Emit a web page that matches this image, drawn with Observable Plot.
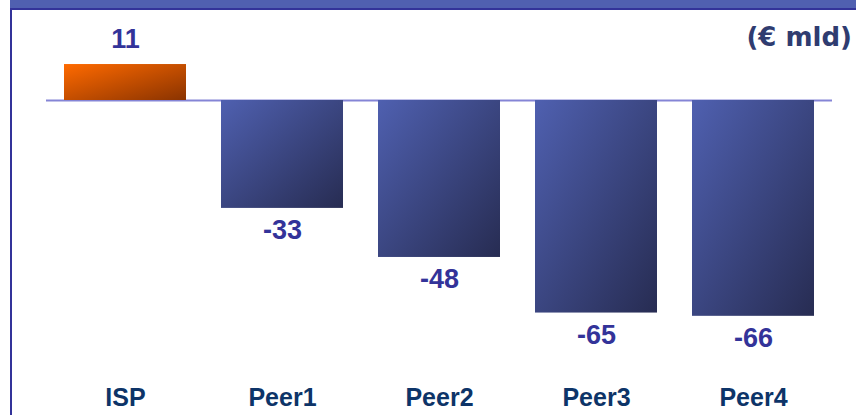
<!DOCTYPE html>
<html>
<head>
<meta charset="utf-8">
<script src="https://cdn.jsdelivr.net/npm/d3@7"></script>
<script src="https://cdn.jsdelivr.net/npm/@observablehq/plot@0.6"></script>
<style>
  html, body { margin: 0; padding: 0; background: #fff; }
  #wrap { position: relative; width: 856px; height: 415px; overflow: hidden; background: #fff; }
  #chart { position: absolute; left: 0; top: 0; }
  .band { position: absolute; left: 10px; top: 0; width: 846px; height: 8px; background: #5060b0; }
  .topline { position: absolute; left: 10px; top: 8px; width: 846px; height: 2px; background: #333399; }
  .leftline { position: absolute; left: 10px; top: 8px; width: 2px; height: 407px; background: #333399; }
  .unit { position: absolute; right: 4px; top: 22px; font-family: "DejaVu Sans", sans-serif; font-weight: bold; font-size: 26px; color: #2f3c70; }
</style>
</head>
<body>
<div id="wrap">
  <div id="chart"></div>
  <div class="band"></div>
  <div class="topline"></div>
  <div class="leftline"></div>
  <div class="unit">(€ mld)</div>
</div>
<script>
const categories = ["ISP", "Peer1", "Peer2", "Peer3", "Peer4"];
const values = [11, -33, -48, -65, -66];

const data = categories.map((name, i) => ({name, value: values[i]}));
const pos = data.filter(d => d.value >= 0);
const neg = data.filter(d => d.value < 0);

const plot = Plot.plot({
  width: 856,
  height: 415,
  marginLeft: 46,
  marginRight: 24,
  marginTop: 34.6,
  marginBottom: 53.4,
  style: {background: "transparent"},
  x: {domain: categories, paddingInner: 0.224, paddingOuter: 0.112, axis: null},
  y: {domain: [-80, 20], axis: null},
  marks: [
    Plot.ruleY([0], {stroke: "#8585d6", strokeWidth: 2}),
    Plot.barY(pos, {x: "name", y: "value", fill: "url(#gOrange)"}),
    Plot.barY(neg, {x: "name", y: "value", fill: "url(#gBlue)"}),
    Plot.text(pos, {x: "name", y: "value", text: d => String(d.value), dy: -25, lineAnchor: "middle",
      fill: "#333399", fontSize: 27, fontWeight: "bold", fontFamily: "Liberation Sans, Arial, sans-serif"}),
    Plot.text(neg, {x: "name", y: "value", text: d => String(d.value), dy: 22, lineAnchor: "middle",
      fill: "#333399", fontSize: 27, fontWeight: "bold", fontFamily: "Liberation Sans, Arial, sans-serif"}),
    Plot.text(data, {x: "name", frameAnchor: "bottom", text: "name", dy: 36, lineAnchor: "middle",
      fill: "#0d3468", fontSize: 25, fontWeight: "bold", fontFamily: "Liberation Sans, Arial, sans-serif"})
  ]
});

d3.select(plot).insert("defs", ":first-child").html(`
  <linearGradient id="gOrange" x1="0" y1="0" x2="1" y2="1">
    <stop offset="0" stop-color="#ff6a00"/>
    <stop offset="1" stop-color="#8a3300"/>
  </linearGradient>
  <linearGradient id="gBlue" x1="0" y1="0" x2="1" y2="1">
    <stop offset="0" stop-color="#4f60b0"/>
    <stop offset="1" stop-color="#272c52"/>
  </linearGradient>
`);

document.getElementById("chart").appendChild(plot);
</script>
</body>
</html>
